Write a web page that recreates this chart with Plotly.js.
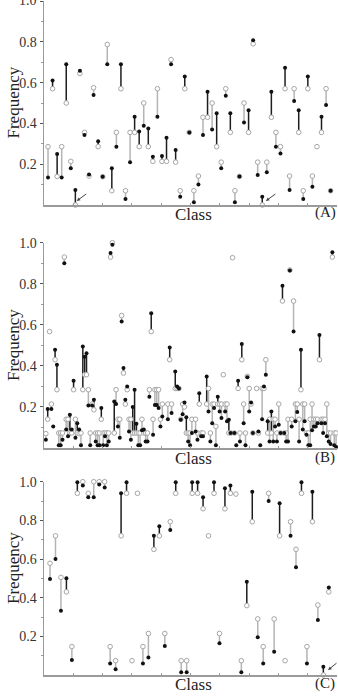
<!DOCTYPE html>
<html><head><meta charset="utf-8">
<script src="https://cdn.plot.ly/plotly-3.0.1.min.js"></script>
<style>html,body{margin:0;padding:0;background:#fff}#chart{width:338px;height:696px}</style>
</head><body><div id="chart"></div>
<script>
// ---------- Panel A ----------
const classA = [1,2,3,4,5,6,7,8,9,10,11,12,13,14,15,16,17,18,19,20,21,22,23,24,25,26,27,28,29,30,31,32,33,34,35,36,37,38,39,40,41,42,43,44,45,46,47,48,49,50,51,52,53,54,55,56,57,58,59,60,61,62,63];
const blackA = [.135,.61,.25,.135,.69,.18,.073,.658,.343,.15,.539,.313,.139,.69,.18,.286,.69,.03,.21,.433,.36,.389,.375,.237,.433,.24,.33,.69,.27,.04,.63,.356,.013,.10,.343,.555,.37,.45,.18,.535,.45,.013,.14,.405,.465,.808,.147,.04,.16,.555,.286,.253,.673,.073,.51,.465,.03,.63,.09,null,.433,.49,.07];
const grayA  = [.286,.57,.14,.286,.50,.214,0,.645,.356,.142,.575,.286,.139,.787,.07,.356,.57,.07,.356,.356,.286,.50,.286,.214,.57,.214,.214,.713,.21,.07,.57,.356,.07,.142,.43,.43,.50,.286,.21,.57,.356,.07,.14,.50,.356,.79,.21,0,.21,.43,.356,.286,.57,.142,.57,.356,.07,.57,.142,.286,.356,.57,.07];

// ---------- Panel B ----------
const classB = [1,2,3,4,5,6,7,8,9,10,11,12,13,14,15,16,17,18,19,20,21,22,23,24,25,26,27,28,29,30,31,32,33,34,35,36,37,38,39,40,41,42,43,44,45,46,47,48,49,50,51,52,53,54,55,56,57,58,59,60,61,62,63,64,
  67,68,69,71,72,73,74,75,76,77,78,79,80,82,83,84,85,86,88,89,90,91,92,93,94,95,96,97,98,99,100,101,102,103,104,105,106,107,108,109,110,111,112,113,115,116,117,118,119,120,121,122,123,124,125,126,127,128,129,130,131,132,133,134,135,136,137,138,139,140,141,142,143,144,145,146,147,148,149,150,151,152,153,154,155,156,157,158];
const blackB = [.04,.19,null,.19,.105,.478,.405,.013,.013,.04,.9,.09,.057,.162,.09,.327,.05,.12,.09,.013,.494,.445,.462,.207,.013,.207,.235,.032,.013,.013,.195,.013,.057,.013,.032,.95,.99,.227,.214,.105,.05,.616,.39,.235,.3,.08,.04,.2,.284,.118,.013,.013,.086,.09,.032,.032,.25,.656,.065,.21,.21,.195,.105,.154,
  .14,.49,.17,.373,.3,.29,.138,.165,.222,.15,.032,.013,.073,.08,.04,.267,.057,.057,.348,.178,.032,.12,.195,.013,.25,.178,.146,null,.178,.13,.138,.073,null,.073,.013,.327,.032,.507,.12,.013,.345,.178,.222,.073,null,.08,.013,.14,.3,.357,.13,.032,.178,.032,.105,.032,.113,.073,.79,.073,.032,.032,.864,.105,.567,.13,.175,.032,.478,.09,.13,.065,.013,.013,.086,.105,.105,.12,.55,.12,.073,.12,.057,.032,.02,.953,.013,.005];
const grayB  = [.07,.14,.567,.214,null,.43,.284,.073,.073,.073,.93,.14,.14,.073,.073,.284,.14,.073,.07,.073,.284,.357,.357,.284,.073,.214,.186,.073,.073,.073,.14,.073,.073,.073,.073,.93,1.0,.073,.284,.14,.14,.645,.365,.214,.284,.14,.14,.073,.073,.073,.073,.073,.14,.073,.073,.073,.284,.567,.14,.284,.284,.284,.14,.214,
  .214,.43,.214,.29,.29,.29,.14,.214,.2,.073,.073,.073,.14,.14,.073,.214,.073,.073,.214,.29,.073,.214,.214,.105,.214,.214,.214,.357,.214,.214,.073,.073,.927,.073,null,.29,.073,.43,.214,.073,.349,.29,.214,.073,.29,.073,null,.29,.29,.43,.073,.14,.073,.14,.14,.073,.214,.073,.716,.073,.073,.14,.867,.14,.716,.214,.214,.14,.284,.214,.214,.073,.073,.14,.214,.14,.14,.14,.43,.14,.14,.14,.214,.073,.073,.93,.073,.073];

// ---------- Panel C ----------
const classC = [1,2,3,4,5,6,7,8,9,10,11,12,13,14,15,16,17,18,19,20,21,22,23,24,25,26,27,28,29,30,31,32,33,34,35,36,37,38,39,40,41,42,43,44,45,46,47,48,49,50,51,52];
const blackC = [.497,.60,.333,.50,.078,.997,.98,.92,.92,.985,.97,.06,.03,.94,.997,null,null,.06,.09,.72,.77,.15,.75,.997,.014,.014,.997,.997,.92,null,.997,.164,.966,.98,null,.014,.483,.948,.195,.06,.90,.12,.888,null,.72,.557,.997,.06,.948,.284,.043,.453];
const grayC  = [.578,.72,.505,.43,.147,.94,1.0,.94,1.0,1.0,1.0,.147,.074,.72,.94,.074,.94,.147,.215,.65,.72,.215,.793,.94,.074,.074,.94,.94,.86,.72,.94,.215,.86,.94,.936,.074,.359,.793,.29,.147,.94,.29,.72,.074,.793,.65,.94,.147,.793,.362,0,.43];

const yTickVals = [0.2,0.4,0.6,0.8,1.0];
const yTickText = ['0.2','0.4','0.6','0.8','1.0'];
const yMinor = [0.1,0.3,0.5,0.7,0.9];
const arrowsA = [[7.3,0.02],[48.8,0.02]];
const arrowsC = [[7.03,1.035],[9.6,1.035],[10.15,1.04],[11.06,1.04],[11.97,1.045],[51.86,0.026]];

const DARK='#1e1e1e', LIGHT='#b4b4b4', AX='#9a9a9a';
const traces=[];
function panel(cls, blk, gry, xa, ya){
  const dx=[],dy=[],lx=[],ly=[];
  cls.forEach((c,i)=>{
    const b=blk[i], g=gry[i];
    if(b==null||g==null||b===g) return;
    if(b>g){dx.push(c,c,null);dy.push(g,b,null);} else {lx.push(c,c,null);ly.push(b,g,null);}
  });
  traces.push({x:lx,y:ly,xaxis:xa,yaxis:ya,mode:'lines',line:{color:LIGHT,width:1.5},hoverinfo:'skip',cliponaxis:false});
  traces.push({x:dx,y:dy,xaxis:xa,yaxis:ya,mode:'lines',line:{color:DARK,width:1.5},hoverinfo:'skip',cliponaxis:false});
  traces.push({x:cls,y:gry,xaxis:xa,yaxis:ya,mode:'markers',cliponaxis:false,
    marker:{symbol:'circle',size:4.6,color:'#fff',line:{color:'#a6a6a6',width:1}}});
  traces.push({x:cls,y:blk,xaxis:xa,yaxis:ya,mode:'markers',cliponaxis:false,
    marker:{symbol:'circle',size:4,color:'#111',line:{width:0}}});
}
panel(classA,blackA,grayA,'x','y');
panel(classB,blackB,grayB,'x2','y2');
panel(classC,blackC,grayC,'x3','y3');

const H=696, W=338;
const xdom=[44/W, 337/W];
const serif="'Liberation Serif', 'Times New Roman', Times, serif";
function xax(range,anchor){
  return {domain:xdom,range:range,anchor:anchor,showline:true,linecolor:AX,linewidth:1.5,
    ticks:'inside',ticklen:2,tickcolor:AX,tick0:range[0],dtick:(range[1]-range[0])/10,
    showticklabels:false,showgrid:false,zeroline:false,fixedrange:true};
}
function yax(dom,anchor){
  return {domain:dom,range:[0,1.0],anchor:anchor,showline:true,linecolor:AX,linewidth:1.5,
    ticks:'outside',ticklen:3,tickcolor:'#555',tickvals:yTickVals,ticktext:yTickText,
    minor:{tickvals:yMinor,ticks:'outside',ticklen:2,tickcolor:AX},
    tickfont:{family:serif,size:14,color:'#333'},
    showgrid:false,zeroline:false,fixedrange:true};
}
const py = p => 1 - p/H;
const ann=[];
function label(text,xp,yp,size,angle){
  ann.push({text:text,xref:'paper',yref:'paper',x:xp/W,y:py(yp),xanchor:'center',yanchor:'middle',
    showarrow:false,textangle:angle||0,font:{family:serif,size:size,color:'#222'}});
}
label('Frequency',13,102.5,17,-90);
label('Frequency',13,345,17,-90);
label('Frequency',13,568,17,-90);
label('Class',193,214,17); label('(A)',325,213,15);
label('Class',193,458,17); label('(B)',325,457,15);
label('Class',193,684,17); label('(C)',325,683,15);
// top tick label of panel A, partly cut by the page edge as in the original
ann.push({text:yTickText[4],xref:'paper',yref:'paper',x:39/W,y:py(1),xanchor:'right',yanchor:'middle',
  showarrow:false,font:{family:serif,size:14,color:'#333'}});
function arrow(a,xr,yr){
  ann.push({x:a[0],y:a[1],xref:xr,yref:yr,text:'',showarrow:true,ax:11,ay:-8,
    arrowhead:2,arrowsize:0.7,arrowwidth:1,arrowcolor:'#444'});
}
arrowsA.forEach(a=>arrow(a,'x','y'));
arrowsC.forEach(a=>arrow(a,'x3','y3'));

const layout={width:W,height:H,margin:{l:0,r:0,t:0,b:0},showlegend:false,
  paper_bgcolor:'#fff',plot_bgcolor:'#fff',
  xaxis:xax([0.12,64.4],'y'), yaxis:yax([py(205),py(1)],'x'),
  xaxis2:xax([0,158.5],'y2'), yaxis2:yax([py(448),py(242.7)],'x2'),
  xaxis3:xax([-0.1,53.5],'y3'), yaxis3:yax([py(675),py(481.7)],'x3'),
  annotations:ann};
Plotly.newPlot('chart',traces,layout,{staticPlot:true,displayModeBar:false});
</script></body></html>
